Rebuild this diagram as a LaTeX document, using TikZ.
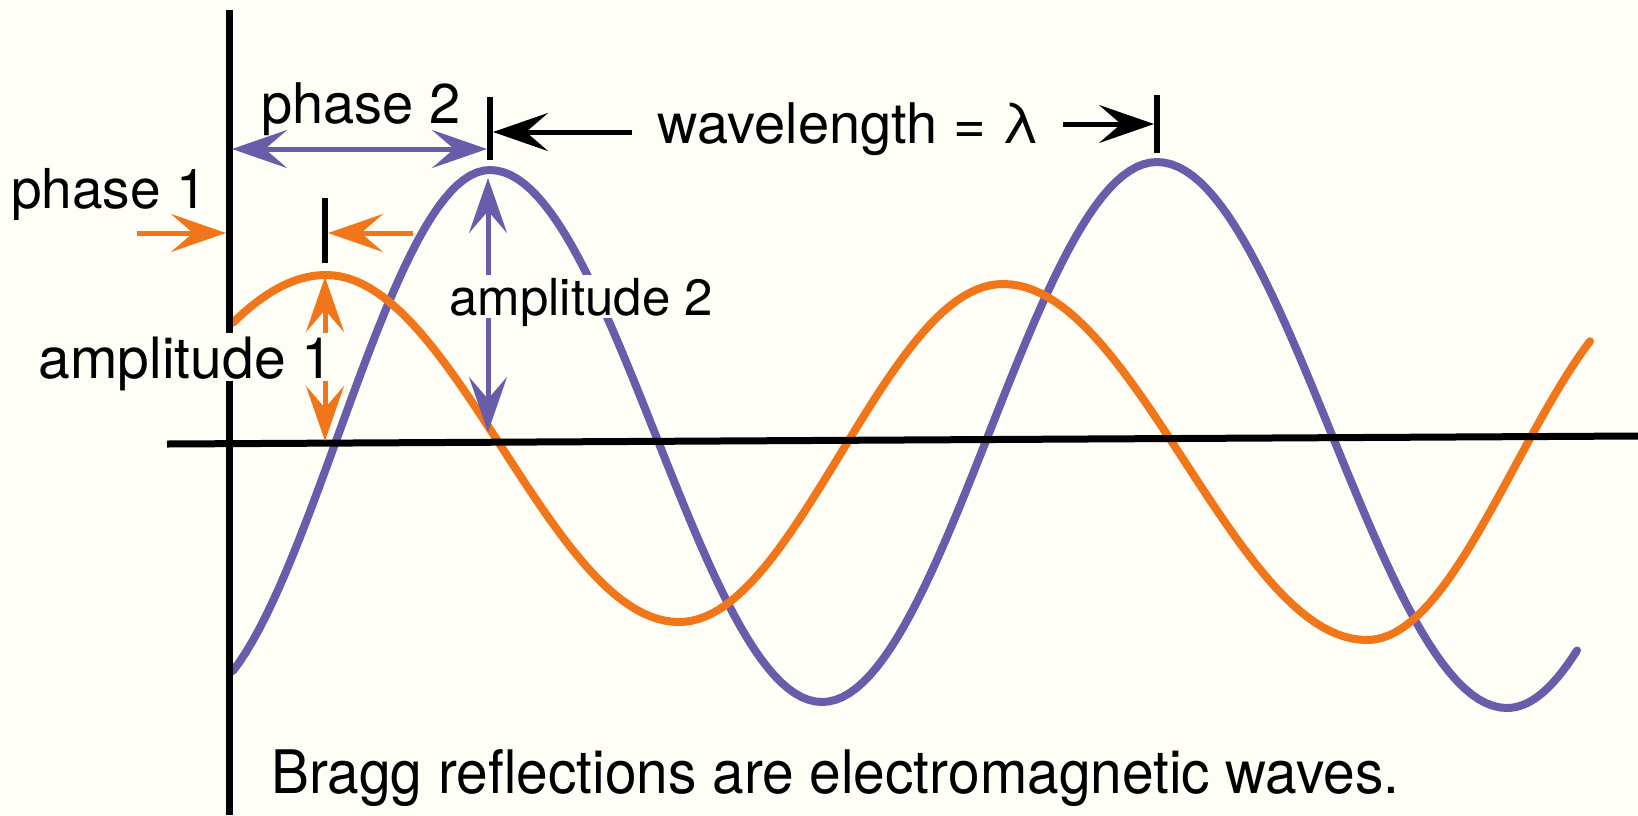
\documentclass[tikz,border=0pt]{standalone}
\usepackage{fontspec}
\setmainfont{TeX Gyre Heros}
\usepackage{tikz}
\usetikzlibrary{arrows.meta}
\definecolor{WaveBlue}{HTML}{675DAA}
\definecolor{WaveOrange}{HTML}{F07619}
\definecolor{paper}{HTML}{FEFEF6}

\begin{document}
\begin{tikzpicture}[x=1pt, y=-1pt,
    >={Stealth[length=55pt, width=38pt, inset=22pt]},
    lbl/.style={inner sep=3pt, anchor=base},
    wave/.style={line width=8pt, line cap=round},
    axisline/.style={line width=7pt},
    tickline/.style={line width=6pt},
    arr/.style={line width=5pt}]
\fill[paper] (0,0) rectangle (1638,815);
\useasboundingbox (0,0) rectangle (1638,815);

% blue wave: half cycles between its crests and troughs
\draw[wave, WaveBlue] plot[domain=233:490, samples=40]
    (\x, {436-266*cos(-152+(\x-233)/257*152)});
\foreach \xa/\ya/\xb/\yb in {490/170/822/702, 822/702/1157/162, 1157/162/1507/708}
  \draw[wave, WaveBlue] plot[domain=\xa:\xb, samples=50]
    (\x, {\ya+(\yb-\ya)*(1-cos((\x-\xa)/(\xb-\xa)*180))/2});
\draw[wave, WaveBlue] plot[domain=1507:1577, samples=15]
    (\x, {436.5-271.5*cos(540+(\x-1507)/70*38)});

% orange wave
\draw[wave, WaveOrange] plot[domain=233:326, samples=20]
    (\x, {448.5-173.5*cos(-43.5+(\x-233)/93*43.5)});
\foreach \xa/\ya/\xb/\yb in {326/275/679/622, 679/622/1003/284, 1003/284/1367/640}
  \draw[wave, WaveOrange] plot[domain=\xa:\xb, samples=50]
    (\x, {\ya+(\yb-\ya)*(1-cos((\x-\xa)/(\xb-\xa)*180))/2});
\draw[wave, WaveOrange] plot[domain=1367:1590, samples=40]
    (\x, {465-175*cos(540+(\x-1367)/223*135)});

% axes
\coordinate (ytop) at (229,10);
\coordinate (ybot) at (229,815);
\coordinate (xleft) at (167,444);
\coordinate (xright) at (1638,436);
\draw[axisline] (ytop) -- (ybot);
\draw[axisline] (xleft) -- (xright);

% ticks
\coordinate (pkAtop) at (490,97);
\coordinate (pkAbot) at (490,160);
\coordinate (pkBtop) at (1157,95);
\coordinate (pkBbot) at (1157,153);
\coordinate (pkCtop) at (325,198);
\coordinate (pkCbot) at (325,263);
\draw[tickline] (pkAtop) -- (pkAbot);
\draw[tickline] (pkBtop) -- (pkBbot);
\draw[tickline] (pkCtop) -- (pkCbot);

% arrows
\coordinate (wlLstart) at (632,132);
\coordinate (wlLend) at (493,132);
\coordinate (wlRstart) at (1063,124);
\coordinate (wlRend) at (1154,124);
\draw[arr, ->] (wlLstart) -- (wlLend);
\draw[arr, ->] (wlRstart) -- (wlRend);
\coordinate (phtwoL) at (232,149);
\coordinate (phtwoR) at (487,149);
\draw[arr, WaveBlue, <->] (phtwoL) -- (phtwoR);
\coordinate (phoneA) at (137,233);
\coordinate (phoneB) at (226,233);
\coordinate (phoneC) at (413,233);
\coordinate (phoneD) at (328,233);
\draw[arr, WaveOrange, ->] (phoneA) -- (phoneB);
\draw[arr, WaveOrange, ->] (phoneC) -- (phoneD);
\coordinate (amponeT) at (325,277);
\coordinate (amponeB) at (325,441);
\coordinate (amptwoT) at (488,178);
\coordinate (amptwoB) at (488,432);
\draw[arr, WaveOrange, <->] (amponeT) -- (amponeB);
\draw[arr, WaveBlue, <->] (amptwoT) -- (amptwoB);

% labels
\node[lbl, font=\fontsize{56}{60}\selectfont] (phasetwo) at (361,123) {phase 2};
\node[lbl, font=\fontsize{55}{60}\selectfont] (phaseone) at (109,208) {phase 1};
\node[lbl, font=\fontsize{56}{60}\selectfont] (wavelen) at (849,143) {wavelength = λ};
\node[lbl, font=\fontsize{51}{60}\selectfont, fill=paper, text depth=0pt]
    (amplitwo) at (581,315) {amplitude 2};
\node[lbl, font=\fontsize{57}{60}\selectfont, fill=paper, text depth=0pt]
    (amplione) at (186,378) {amplitude 1};
\node[font=\fontsize{60}{70}\selectfont, anchor=base west, xscale=0.947, inner sep=0pt]
    (bragg) at (271,793) {Bragg reflections are electromagnetic waves.};
\end{tikzpicture}
\end{document}
